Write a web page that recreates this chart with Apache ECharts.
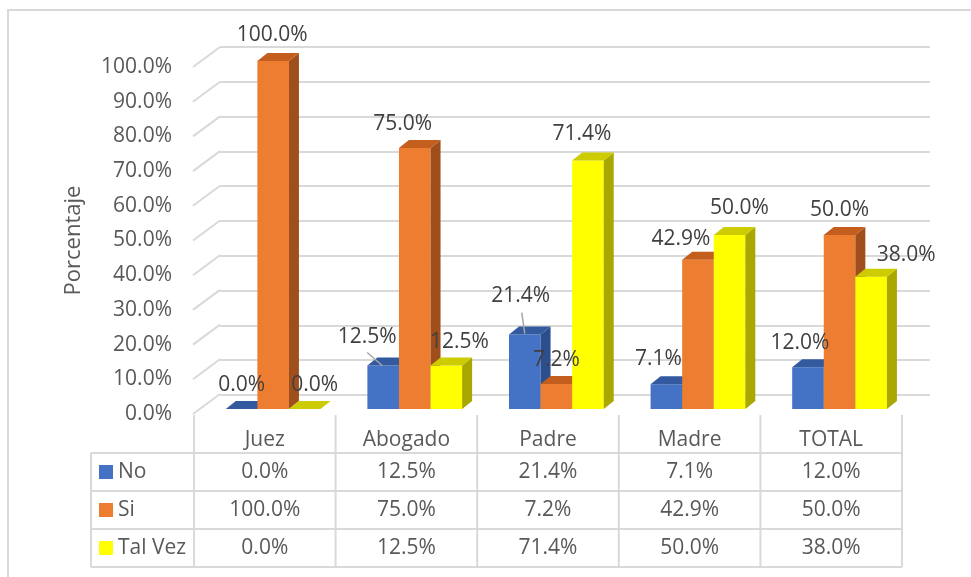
<!DOCTYPE html>
<html>
<head>
<meta charset="utf-8">
<script src="https://cdn.jsdelivr.net/npm/echarts@6/dist/echarts.min.js"></script>
<style>
  html, body { margin: 0; padding: 0; background: #fff; }
  #main { width: 971px; height: 577px; }
</style>
</head>
<body>
<div id="main"></div>
<script>
// data
const categories = ['Juez', 'Abogado', 'Padre', 'Madre', 'TOTAL']
const seriesNames = ['No', 'Si', 'Tal Vez']
const noValues = [0.0, 12.5, 21.4, 7.1, 12.0]
const siValues = [100.0, 75.0, 7.2, 42.9, 50.0]
const talVezValues = [0.0, 12.5, 71.4, 50.0, 38.0]
const yMin = 0
const yMax = 100
const yStep = 10

// styling
const FONT = 'Open Sans'
const colors = [
  { front: '#4472C4', top: '#33599E', side: '#2D4E8C' },
  { front: '#ED7D31', top: '#C35E1F', side: '#A04F1C' },
  { front: '#FFFF00', top: '#CCCC00', side: '#A8A800' }
]
// label offsets from the top-front centre of each bar [dx, dy]
const labelOffsets = [
  [[0, -24], [-16, -28], [-4, -39], [-8, -25], [-8, -24]],
  [[-1, -26], [-12, -24], [0, -24], [-17, -21], [0, -25]],
  [[10, -24], [13, -23], [-6, -27], [10, -27], [35, -22]]
]
// leader lines [category series, from, to] relative to the same point
const leaders = [
  { s: 0, c: 1, from: [-16, -13], to: [-1, 0] },
  { s: 0, c: 2, from: [-3, -22], to: [0, -1] }
]
const allValues = [noValues, siValues, talVezValues]
const fmt = v => v.toFixed(1) + '%'

const DX = 10
const DY = -8

function barBox (api, s) {
  const c = api.value(0)
  const v = api.value(1)
  const base = api.coord([c, 0])
  const top = api.coord([c, v])
  const band = api.size([1, 0])[0]
  const w = band * 0.223
  const x0 = base[0] - band * 0.2755 + s * w
  return { x0, w, yTop: top[1], yBase: base[1] }
}

function barSeries (s) {
  return {
    type: 'custom',
    name: seriesNames[s],
    xAxisIndex: 2,
    yAxisIndex: 2,
    z: 3 + s,
    encode: { x: 0, y: 1 },
    data: allValues[s].map((v, i) => [i, v]),
    renderItem: (params, api) => {
      const b = barBox(api, s)
      const col = colors[s]
      return {
        type: 'group',
        children: [
          { type: 'rect', shape: { x: b.x0, y: b.yTop, width: b.w, height: b.yBase - b.yTop }, style: { fill: col.front } },
          { type: 'polygon', shape: { points: [[b.x0 + b.w, b.yTop], [b.x0 + b.w + DX, b.yTop + DY], [b.x0 + b.w + DX, b.yBase + DY], [b.x0 + b.w, b.yBase]] }, style: { fill: col.side } },
          { type: 'polygon', shape: { points: [[b.x0, b.yTop], [b.x0 + DX, b.yTop + DY], [b.x0 + b.w + DX, b.yTop + DY], [b.x0 + b.w, b.yTop]] }, style: { fill: col.top } }
        ]
      }
    }
  }
}

const labelData = []
allValues.forEach((arr, s) => arr.forEach((v, c) => labelData.push([c, v, s])))

const labelSeries = {
  type: 'custom',
  xAxisIndex: 2,
  yAxisIndex: 2,
  z: 10,
  silent: true,
  encode: { x: 0, y: 1 },
  data: labelData,
  renderItem: (params, api) => {
    const s = api.value(2)
    const c = api.value(0)
    const b = barBox(api, s)
    const ax = b.x0 + b.w / 2
    const ay = b.yTop
    const off = labelOffsets[s][c]
    const children = [{
      type: 'text',
      style: {
        x: ax + off[0], y: ay + off[1],
        text: fmt(api.value(1)),
        align: 'center', verticalAlign: 'middle',
        fill: '#404040', font: '21px "' + FONT + '"'
      }
    }]
    leaders.filter(l => l.s === s && l.c === c).forEach(l => {
      children.push({
        type: 'line',
        shape: { x1: ax + l.from[0], y1: ay + l.from[1], x2: ax + l.to[0], y2: ay + l.to[1] },
        style: { stroke: '#A6A6A6', lineWidth: 1.5 }
      })
    })
    return { type: 'group', children }
  }
}

const tickValues = []
for (let v = yMin; v <= yMax; v += yStep) tickValues.push([0, v])

const slantSeries = {
  type: 'custom',
  xAxisIndex: 0,
  yAxisIndex: 0,
  z: 1,
  silent: true,
  encode: { x: 0, y: 1 },
  data: tickValues,
  renderItem: (params, api) => {
    const p = api.coord([0, api.value(1)])
    return {
      type: 'line',
      shape: { x1: p[0], y1: p[1], x2: p[0] + 27, y2: p[1] - 20 },
      style: { stroke: '#D9D9D9', lineWidth: 2 }
    }
  }
}

// data table below the plot
const tblLeft = 91
const colLeft = 194
const colW = 141.6
const rowTops = [453, 491, 529, 567]
const lineStyle = { stroke: '#D9D9D9', lineWidth: 2 }
const tableGraphics = []
const tblRight = colLeft + colW * categories.length
rowTops.forEach(y => tableGraphics.push({ type: 'line', shape: { x1: tblLeft, y1: y, x2: tblRight, y2: y }, style: lineStyle }))
tableGraphics.push({ type: 'line', shape: { x1: tblLeft, y1: rowTops[0], x2: tblLeft, y2: rowTops[3] }, style: lineStyle })
for (let i = 0; i <= categories.length; i++) {
  const x = colLeft + colW * i
  tableGraphics.push({ type: 'line', shape: { x1: x, y1: 415, x2: x, y2: rowTops[3] }, style: lineStyle })
}
seriesNames.forEach((name, s) => {
  const cy = (rowTops[s] + rowTops[s + 1]) / 2
  tableGraphics.push({ type: 'rect', shape: { x: 99, y: cy - 7, width: 14, height: 14 }, style: { fill: colors[s].front } })
  tableGraphics.push({ type: 'text', style: { x: 118, y: cy, text: name, verticalAlign: 'middle', fill: '#595959', font: '21px "' + FONT + '"' } })
  allValues[s].forEach((v, c) => {
    tableGraphics.push({
      type: 'text',
      style: { x: colLeft + colW * (c + 0.5), y: cy, text: fmt(v), align: 'center', verticalAlign: 'middle', fill: '#595959', font: '21px "' + FONT + '"' }
    })
  })
})
// outer chart border
tableGraphics.push({ type: 'rect', shape: { x: 8, y: 10, width: 1000, height: 1000 }, style: { fill: 'none', stroke: '#D9D9D9', lineWidth: 2 }, z: -1 })

const myChart = echarts.init(document.getElementById('main'))
const option = {
  backgroundColor: '#fff',
  animation: false,
  textStyle: { fontFamily: FONT },
  grid: [
    // front edge, carries tick labels
    { left: 193, right: 69, top: 67, bottom: 163 },
    // back wall
    { left: 220, right: 41, top: 47, bottom: 182 },
    // bar plane
    { left: 194, right: 69, top: 61, bottom: 168 }
  ],
  xAxis: [
    { gridIndex: 0, type: 'value', min: 0, max: 1, show: false },
    { gridIndex: 1, type: 'value', min: 0, max: 1, show: false },
    {
      gridIndex: 2,
      type: 'category',
      data: categories,
      axisLine: { show: false },
      axisTick: { show: false },
      axisLabel: { margin: 19, color: '#595959', fontSize: 21, fontFamily: FONT, lineHeight: 24 }
    }
  ],
  yAxis: [
    {
      gridIndex: 0,
      type: 'value',
      min: yMin,
      max: yMax,
      interval: yStep,
      name: 'Porcentaje',
      nameLocation: 'middle',
      nameGap: 108,
      nameTextStyle: { color: '#595959', fontSize: 22, fontFamily: FONT },
      axisLine: { show: false },
      axisTick: { show: false },
      splitLine: { show: false },
      axisLabel: { margin: 21, color: '#595959', fontSize: 21, fontFamily: FONT, formatter: v => fmt(v) }
    },
    {
      gridIndex: 1,
      type: 'value',
      min: yMin,
      max: yMax,
      interval: yStep,
      axisLine: { show: false },
      axisTick: { show: false },
      axisLabel: { show: false },
      splitLine: { lineStyle: { color: '#D9D9D9', width: 2 } }
    },
    { gridIndex: 2, type: 'value', min: yMin, max: yMax, show: false }
  ],
  graphic: tableGraphics,
  series: [slantSeries, barSeries(0), barSeries(1), barSeries(2), labelSeries]
}
myChart.setOption(option)
</script>
</body>
</html>
